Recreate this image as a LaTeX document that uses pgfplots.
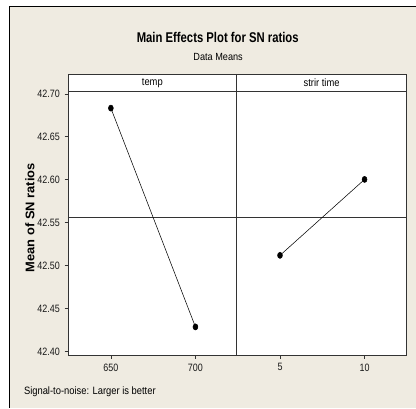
\documentclass[border=0pt]{standalone}
\usepackage{fontspec}
\setmainfont[FakeStretch=0.88]{Liberation Sans}
\newfontfamily\titfont[FakeStretch=0.8]{Liberation Sans}
\newfontfamily\tickfont[FakeStretch=0.84]{Liberation Sans}
\newfontfamily\ylabfont[FakeStretch=1.03]{Liberation Sans}
\usepackage{pgfplots}
\pgfplotsset{compat=1.18}
\definecolor{bg}{RGB}{239,235,225}
\pgfplotsset{me/.style={
  scale only axis, height=198pt,
  ymin=42.3953, ymax=42.7023,
  axis background/.style={fill=white},
  axis line style={black!80, line width=0.6pt},
  tick style={black!80, line width=0.5pt},
  tick align=outside, major tick length=2.5pt,
  ticklabel style={font=\tickfont\fontsize{8}{9}\selectfont, text=black!90},
  /pgf/number format/assume math mode=true,
  xtick pos=bottom, ytick pos=left,
  clip=false,
}}
\begin{document}
\begin{tikzpicture}
\fill[white] (0,0) rectangle (312pt,-306pt);
\fill[bg] (7.5pt,-5.25pt) rectangle (312pt,-306pt);
\draw[black, line width=0.75pt] (7.5pt,-306pt) -- (7.5pt,-5.25pt) -- (312pt,-5.25pt);

\node[font=\titfont\bfseries\fontsize{10.6}{12}\selectfont] at (163.5pt,-27.75pt) {Main Effects Plot for SN ratios};
\node[font=\fontsize{7.8}{9}\selectfont] at (163.8pt,-43pt) {Data Means};

\begin{axis}[me, at={(51pt,-267pt)}, anchor=south west, width=126.75pt,
  xmin=624.6, xmax=724.4, xtick={650,700},
  ytick={42.40,42.45,42.50,42.55,42.60,42.65,42.70},
  yticklabel={\pgfmathprintnumber[fixed,fixed zerofill,precision=2]{\tick}}]
\addplot[black!80, line width=0.6pt] coordinates {(624.6,42.5565) (724.4,42.5565)};
\addplot[black, line width=0.4pt, mark=*, mark size=2.3pt, mark options={xscale=0.8}]
  coordinates {(650,42.6834) (700,42.4287)};
\end{axis}

\begin{axis}[me, at={(177.75pt,-267pt)}, anchor=south west, width=127.5pt,
  xmin=2.44, xmax=12.48, xtick={5,10}, ymajorticks=false]
\addplot[black!80, line width=0.6pt] coordinates {(2.44,42.5565) (12.48,42.5565)};
\addplot[black, line width=0.4pt, mark=*, mark size=2.3pt, mark options={xscale=0.8}]
  coordinates {(5,42.5120) (10,42.6004)};
\end{axis}

\draw[black!80, line width=0.6pt, fill=white] (51pt,-55.5pt) rectangle (305.25pt,-69pt);
\draw[black!80, line width=0.6pt] (177.75pt,-55.5pt) -- (177.75pt,-69pt);
\node[font=\fontsize{8}{9}\selectfont] at (114.4pt,-62.25pt) {temp};
\node[font=\fontsize{8}{9}\selectfont] at (241.5pt,-62.25pt) {strir time};

\node[rotate=90, font=\ylabfont\bfseries\fontsize{9.4}{11}\selectfont] at (22.5pt,-163.5pt) {Mean of SN ratios};
\node[anchor=west, font=\fontsize{8}{9}\selectfont] at (14.5pt,-294pt) {Signal-to-noise: Larger is better};
\end{tikzpicture}
\end{document}
